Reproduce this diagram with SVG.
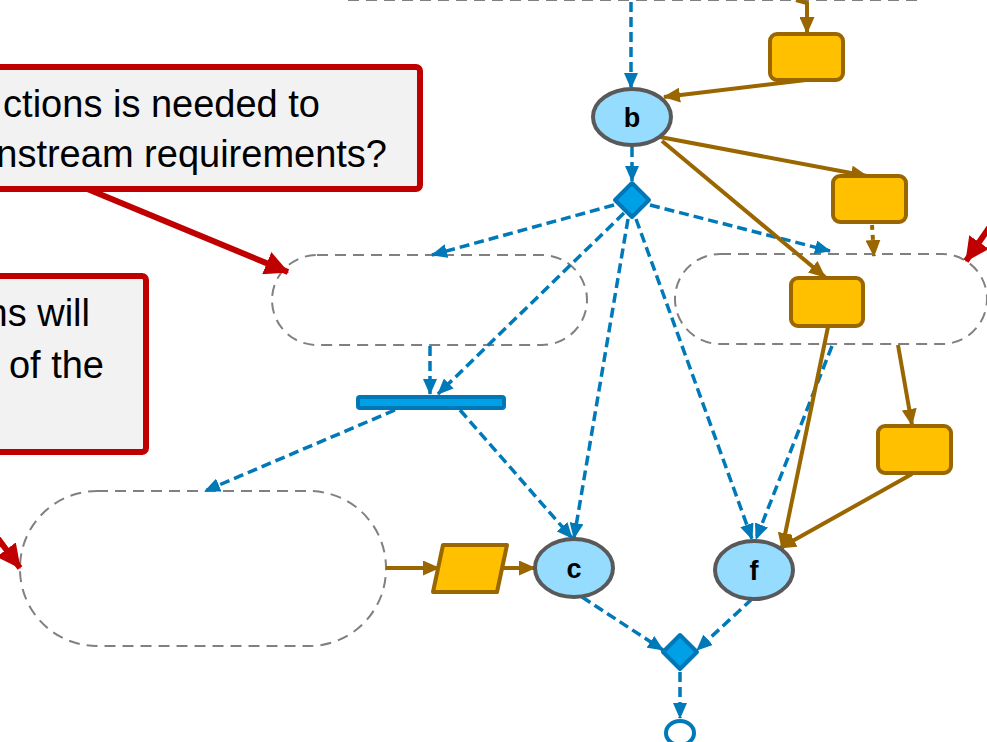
<svg xmlns="http://www.w3.org/2000/svg" width="987" height="742" viewBox="0 0 987 742">
<style>
.region{fill:none;stroke:#808080;stroke-width:2;stroke-dasharray:11 7}
.flow{fill:none;stroke:#0079B8;stroke-width:3.5;stroke-dasharray:10 5}
.res{fill:none;stroke:#996600;stroke-width:4}
.box{fill:#FFC000;stroke:#996600;stroke-width:4}
.ev{fill:#95DCFF;stroke:#595959;stroke-width:4}
.gw{fill:#00A0E6;stroke:#0077B6;stroke-width:4}
.lbl{font-family:"Liberation Sans",Arial,sans-serif;font-weight:bold;font-size:27px;fill:#000;text-anchor:middle}
.call{fill:#F2F2F2;stroke:#C00000;stroke-width:6}
.ctext{font-family:"Liberation Sans",Arial,sans-serif;font-size:38px;fill:#000;text-anchor:end}
.tail{fill:none;stroke:#C00000;stroke-width:6}
</style>
<defs>
<marker id="ab" markerUnits="userSpaceOnUse" markerWidth="16" markerHeight="14" refX="15" refY="7" orient="auto"><path d="M0,0 L16,7 L0,14 z" fill="#0079B8"/></marker>
<marker id="ar" markerUnits="userSpaceOnUse" markerWidth="17" markerHeight="15" refX="16" refY="7.5" orient="auto"><path d="M0,0 L17,7.5 L0,15 z" fill="#996600"/></marker>
<marker id="ac" markerUnits="userSpaceOnUse" markerWidth="24" markerHeight="24" refX="23" refY="12" orient="auto"><path d="M0,0 L24,12 L0,24 z" fill="#C00000"/></marker>
</defs>

<g id="region-top"><line class="region" x1="348" y1="0" x2="920" y2="0"/></g>
<g id="region1"><rect class="region" x="272" y="255" width="315" height="90" rx="45"/></g>
<g id="region2"><rect class="region" x="675" y="254" width="312" height="90" rx="45"/></g>
<g id="region3"><rect class="region" x="20" y="491" width="366" height="155" rx="77"/></g>

<g id="connectors">
<line class="flow" x1="631" y1="2" x2="631" y2="88" marker-end="url(#ab)"/>
<line class="flow" x1="632" y1="147" x2="632" y2="181" marker-end="url(#ab)"/>
<line class="flow" x1="614" y1="205" x2="432" y2="255" marker-end="url(#ab)"/>
<line class="flow" x1="650" y1="205" x2="830" y2="251" marker-end="url(#ab)"/>
<line class="flow" x1="624" y1="213" x2="438" y2="394" marker-end="url(#ab)"/>
<line class="flow" x1="430" y1="346" x2="430" y2="394" marker-end="url(#ab)"/>
<line class="flow" x1="628" y1="219" x2="574" y2="538" marker-end="url(#ab)"/>
<line class="flow" x1="636" y1="219" x2="752" y2="539" marker-end="url(#ab)"/>
<line class="flow" x1="832" y1="346" x2="756" y2="539" marker-end="url(#ab)"/>
<line class="flow" x1="395" y1="410" x2="205" y2="491" marker-end="url(#ab)"/>
<line class="flow" x1="460" y1="410" x2="572" y2="538" marker-end="url(#ab)"/>
<line class="flow" x1="582" y1="597" x2="663" y2="650" marker-end="url(#ab)"/>
<line class="flow" x1="752" y1="599" x2="697" y2="650" marker-end="url(#ab)"/>
<line class="flow" x1="680" y1="672" x2="680" y2="718" marker-end="url(#ab)"/>

<path class="res" d="M796,0 L807,3 L807,33" marker-end="url(#ar)"/>
<line class="res" x1="806" y1="80" x2="664" y2="97" marker-end="url(#ar)"/>
<line class="res" x1="660" y1="137" x2="867" y2="176" marker-end="url(#ar)"/>
<line class="res" x1="662" y1="141" x2="825" y2="277" marker-end="url(#ar)"/>
<line class="res" x1="872" y1="225" x2="874" y2="256" stroke-dasharray="5 5" marker-end="url(#ar)"/>
<line class="res" x1="828" y1="327" x2="782" y2="549" marker-end="url(#ar)"/>
<line class="res" x1="898" y1="345" x2="912" y2="425" marker-end="url(#ar)"/>
<line class="res" x1="912" y1="474" x2="780" y2="548" marker-end="url(#ar)"/>
<line class="res" x1="386" y1="568" x2="439" y2="568" marker-end="url(#ar)"/>
<line class="res" x1="502" y1="568" x2="535" y2="568" marker-end="url(#ar)"/>
</g>

<g id="boxA"><rect class="box" x="770" y="34" width="73" height="46" rx="7"/></g>
<g id="boxB"><rect class="box" x="833" y="176" width="73" height="46" rx="7"/></g>
<g id="boxC"><rect class="box" x="791" y="278" width="72" height="48" rx="7"/></g>
<g id="boxD"><rect class="box" x="878" y="426" width="73" height="47" rx="7"/></g>
<g id="data"><polygon class="box" points="443,545 507,545 497,592 433,592" stroke-linejoin="round"/></g>

<g id="b"><ellipse class="ev" cx="632" cy="117" rx="39" ry="28"/><text class="lbl" x="632" y="127">b</text></g>
<g id="c"><ellipse class="ev" cx="574" cy="568" rx="39" ry="29"/><text class="lbl" x="574" y="578">c</text></g>
<g id="f"><ellipse class="ev" cx="754" cy="570" rx="39" ry="29"/><text class="lbl" x="754" y="580">f</text></g>

<g id="gw-split"><polygon class="gw" points="632,183 649,200 632,217 615,200" stroke-linejoin="round"/></g>
<g id="gw-join"><polygon class="gw" points="680,635 697,652 680,669 663,652" stroke-linejoin="round"/></g>
<g id="fork"><rect x="358" y="397" width="146" height="11" rx="2" fill="#00A0E6" stroke="#0077B6" stroke-width="4"/></g>
<g id="end"><ellipse cx="680" cy="733" rx="14" ry="12" fill="#FFFFFF" stroke="#0079B8" stroke-width="4"/></g>

<g id="callout1">
<line class="tail" x1="85" y1="188" x2="288" y2="272" marker-end="url(#ac)"/>
<rect class="call" x="-20" y="67" width="440" height="122" rx="4"/>
<text class="ctext" x="320" y="117">ctions is needed to</text>
<text class="ctext" x="387" y="167">nstream requirements?</text>
</g>
<g id="callout2">
<line class="tail" x1="-10" y1="528" x2="20" y2="568" marker-end="url(#ac)"/>
<rect class="call" x="-20" y="276" width="166" height="176" rx="4"/>
<text class="ctext" x="90" y="326">ns will</text>
<text class="ctext" x="104" y="378">of the</text>
</g>
<g id="callout3">
<line class="tail" x1="1000" y1="212" x2="966" y2="261" marker-end="url(#ac)"/>
</g>
</svg>
